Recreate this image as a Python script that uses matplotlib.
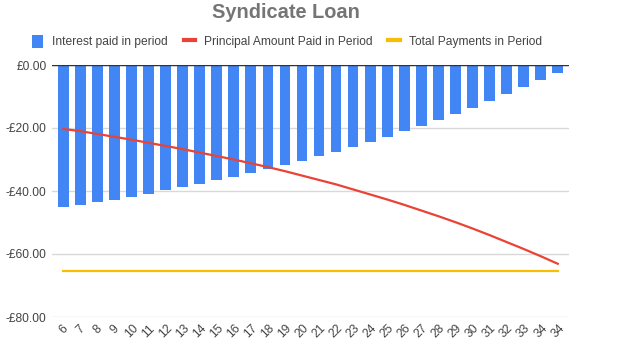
import matplotlib
matplotlib.use("Agg")
import matplotlib.pyplot as plt
from matplotlib.patches import Patch
from matplotlib.lines import Line2D
from matplotlib.ticker import FuncFormatter
import numpy as np

plt.rcParams['font.family'] = ['Liberation Sans', 'DejaVu Sans']

periods = ["6", "7", "8", "9", "10", "11", "12", "13", "14", "15", "16", "17", "18", "19", "20",
           "21", "22", "23", "24", "25", "26", "27", "28", "29", "30", "31", "32", "33", "34", "34"]
interest = [-45.2, -44.5, -43.6, -42.7, -41.8, -40.8, -39.8, -38.8, -37.7, -36.6, -35.5, -34.3,
            -33.1, -31.8, -30.4, -29.0, -27.6, -26.0, -24.4, -22.8, -21.1, -19.3, -17.5, -15.6,
            -13.6, -11.5, -9.3, -7.1, -4.8, -2.4]
principal = [-20.3, -21.0, -21.9, -22.8, -23.7, -24.7, -25.7, -26.7, -27.8, -28.9, -30.0, -31.2,
             -32.4, -33.7, -35.1, -36.5, -37.9, -39.5, -41.1, -42.7, -44.4, -46.2, -48.0, -49.9,
             -51.9, -54.0, -56.2, -58.4, -60.7, -63.1]
total = [-65.5] * 30
y_ticks = [0, -20, -40, -60, -80]

BLUE = "#4285f4"
RED = "#ea4335"
YELLOW = "#fbbc04"
TXT = "#444444"
FS = 8.64

fig = plt.figure(figsize=(6.23, 3.63), dpi=100)
ax = fig.add_axes([52/623, 1-317/363, (569-52)/623, (317-65)/363])

x = np.arange(len(periods))
ax.bar(x, interest, width=0.63, color=BLUE, zorder=2)
ax.plot(x, principal, color=RED, lw=1.6, zorder=3)
ax.plot(x, total, color=YELLOW, lw=1.6, zorder=3)

ax.set_xlim(-0.66, len(periods) - 1 + 0.66)
ax.set_ylim(-80, 0)
ax.set_yticks(y_ticks)
ax.yaxis.set_major_formatter(FuncFormatter(lambda v, p: ("-£%.2f" % abs(v)) if v < 0 else "£%.2f" % abs(v)))
ax.grid(axis='y', color="#d9d9d9", lw=1, zorder=0)
ax.axhline(0, color="#333333", lw=1, zorder=4)
for s in ax.spines.values():
    s.set_visible(False)
ax.tick_params(axis='both', length=0, colors=TXT)
ax.tick_params(axis='y', labelsize=FS, pad=4)
ax.set_xticks(x)
ax.set_xticklabels(periods, rotation=45, ha='center', va='top', fontsize=FS)
ax.tick_params(axis='x', pad=4)

fig.text(286/623, 1-12.5/363, "Syndicate Loan", ha='center', va='center', fontsize=14.4,
         fontweight='bold', color="#757575")

handles = [Patch(facecolor=BLUE, edgecolor='none'),
           Line2D([0], [0], color=RED, lw=3),
           Line2D([0], [0], color=YELLOW, lw=3)]
labels = ["Interest paid in period", "Principal Amount Paid in Period", "Total Payments in Period"]
leg = fig.legend(handles, labels, loc='center left', bbox_to_anchor=(31.7/623, 1-41.5/363), ncol=3,
                 frameon=False, fontsize=FS, handlelength=0.97, handleheight=1.4,
                 handletextpad=0.72, columnspacing=1.33, borderaxespad=0, borderpad=0)
for t in leg.get_texts():
    t.set_color(TXT)

fig.savefig("out.png", dpi=100)
